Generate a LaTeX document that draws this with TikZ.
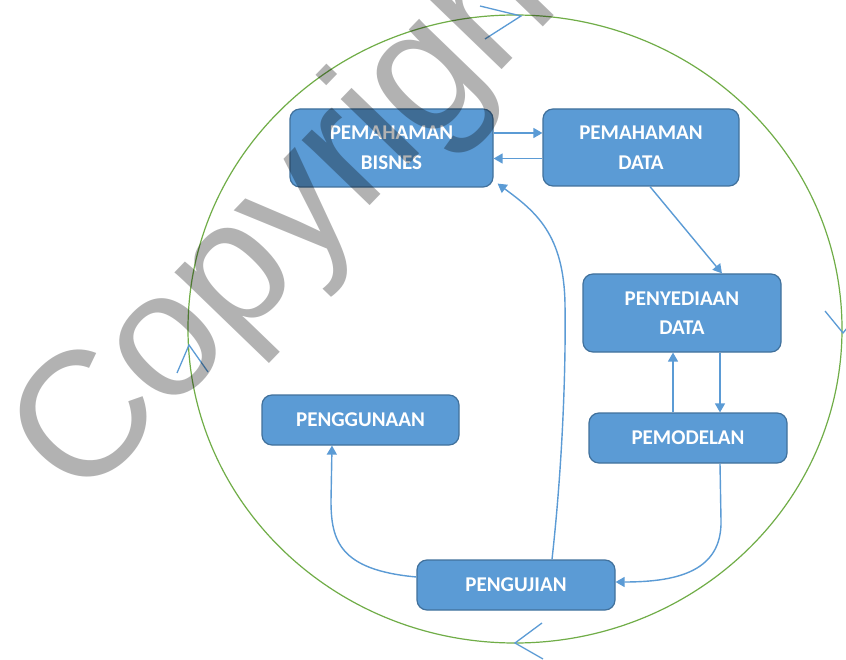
\documentclass[tikz,border=0pt]{standalone}
\usepackage{fontspec}
\setmainfont{Carlito}
\newfontfamily\wmfont[LetterSpace=-1.5]{Liberation Sans}
\usetikzlibrary{arrows.meta,calc}
\definecolor{boxblue}{HTML}{5B9BD5}
\definecolor{boxedge}{HTML}{41719C}
\definecolor{ringgreen}{HTML}{70AD47}
\begin{document}
\begin{tikzpicture}[x=1pt,y=-1pt,
 stage/.style={draw=boxedge, line width=1.2pt, fill=boxblue, rounded corners=10pt,
   text=white, font=\bfseries\fontsize{21}{29.5}\selectfont, align=center, inner sep=0pt},
 arr/.style={draw=boxblue, line width=1.4pt, -{Triangle[length=9pt,width=10pt]}},
 chev/.style={draw=boxblue, line width=1.3pt},
]
\clip (0,0) rectangle (846,660);
\fill[white] (0,0) rectangle (846,660);
\draw[ringgreen, line width=1.2pt] (515,329) ellipse [x radius=327pt, y radius=314pt];

\node[stage, minimum width=203pt, minimum height=78pt] (bisnes) at (391.5,148) {PEMAHAMAN\\BISNES};
\node[stage, minimum width=196pt, minimum height=77pt] (data) at (641,147.5) {PEMAHAMAN\\DATA};
\node[stage, minimum width=198pt, minimum height=78pt] (peny) at (682,313) {PENYEDIAAN\\DATA};
\node[stage, minimum width=198pt, minimum height=50pt] (model) at (688,438) {PEMODELAN};
\node[stage, minimum width=197pt, minimum height=50pt] (guna) at (360.5,420) {PENGGUNAAN};
\node[stage, minimum width=198pt, minimum height=50pt] (uji) at (516,585) {PENGUJIAN};

\draw[arr] ([yshift=15pt]bisnes.east) -- ([yshift=15pt]bisnes.east -| data.west);
\draw[arr] ([yshift=-11pt]data.west) -- ([yshift=-11pt]data.west -| bisnes.east);
\draw[arr] ([xshift=9pt]data.south) -- ([xshift=40pt]peny.north);
\draw[arr] ([xshift=-15pt]model.north) -- ([xshift=-15pt]model.north |- peny.south);
\draw[arr] ([xshift=32pt]model.north |- peny.south) -- ([xshift=32pt]model.north);
\draw[arr] ([xshift=32pt]model.south) -- ++(1,57) .. controls +(1,50) and +(63,0) .. ([yshift=3pt]uji.east);
\draw[arr] ([yshift=8pt]uji.west) .. controls +(-77,-7) and +(0,40) .. ($(guna.south)+(-29.5,55)$) -- ([xshift=-28.5pt]guna.south);
\draw[arr] ([xshift=36pt]uji.north) .. controls +(10,-90) and +(1,70) .. ($(uji.north)+(49,-255)$)
   .. controls +(-1,-70) and +(38,28) .. ([shift={(4pt,4pt)}]bisnes.south east);

\draw[chev] (480,6) -- (521,16) -- (485,39);
\draw[chev] (825,311) -- (843,333) -- (861,311);
\draw[chev] (542,623) -- (515,643) -- (543,659);
\draw[chev] (177,373) -- (189,345) -- (208,372);

\node[anchor=base west, rotate=46, inner sep=0pt, text=black, text opacity=0.3,
  font=\wmfont\fontsize{178}{178}\selectfont] (wm) at (80,506) {Copyright};
\end{tikzpicture}
\end{document}
